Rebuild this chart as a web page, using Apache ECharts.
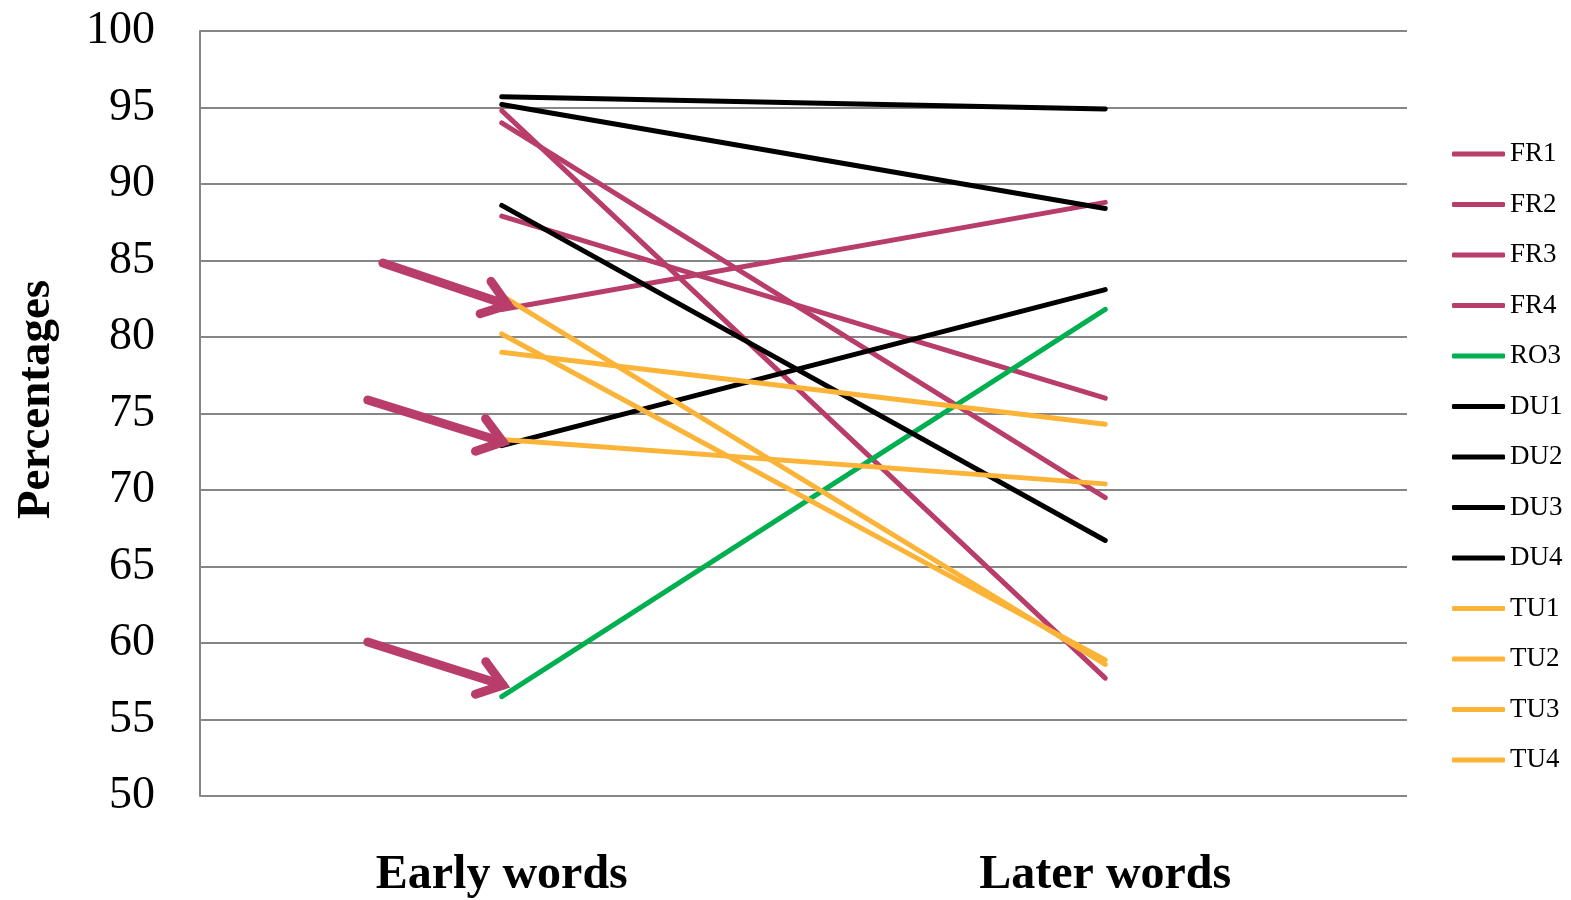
<!DOCTYPE html>
<html>
<head>
<meta charset="utf-8">
<script src="https://cdn.jsdelivr.net/npm/echarts@6/dist/echarts.min.js"></script>
<style>
html,body{margin:0;padding:0;background:#fff;}
#chart{width:1571px;height:900px;}
</style>
</head>
<body>
<div id="chart"></div>
<script>
// ---- data ----
var categories = ['Early words', 'Later words'];
var seriesNames = ['FR1','FR2','FR3','FR4','RO3','DU1','DU2','DU3','DU4','TU1','TU2','TU3','TU4'];
var FR1 = [94.8, 57.7];
var FR2 = [94.0, 69.5];
var FR3 = [87.9, 76.0];
var FR4 = [81.8, 88.8];
var RO3 = [56.5, 81.8];
var DU1 = [95.7, 94.9];
var DU2 = [95.2, 88.4];
var DU3 = [88.6, 66.7];
var DU4 = [72.9, 83.1];
var TU1 = [82.7, 58.6];
var TU2 = [80.2, 58.9];
var TU3 = [79.0, 74.3];
var TU4 = [73.3, 70.4];
var yTicks = [50, 55, 60, 65, 70, 75, 80, 85, 90, 95, 100];
// annotation arrows (in data units: x in category-index units, y in percent)
var arrowFromX = [-0.197, -0.222, -0.222];
var arrowFromY = [84.84, 75.88, 60.07];
var arrowToX   = [0.010, 0.002, 0.002];
var arrowToY   = [82.09, 73.14, 57.25];

var values = [FR1,FR2,FR3,FR4,RO3,DU1,DU2,DU3,DU4,TU1,TU2,TU3,TU4];
var PINK = '#B93D6B', GREEN = '#00B050', BLACK = '#000000', ORANGE = '#FBB437';
var colors = [PINK,PINK,PINK,PINK,GREEN,BLACK,BLACK,BLACK,BLACK,ORANGE,ORANGE,ORANGE,ORANGE];
var FONT = '"Liberation Serif", "DejaVu Serif", serif';

var series = seriesNames.map(function(n, i){
  return {
    name: n, type: 'line', data: values[i], xAxisIndex: 0,
    showSymbol: false, symbol: 'none', silent: true,
    lineStyle: {color: colors[i], width: 5, cap: 'round'},
    itemStyle: {color: colors[i]}
  };
});

var arrowData = arrowFromX.map(function(v, i){
  return [arrowFromX[i], arrowFromY[i], arrowToX[i], arrowToY[i]];
});

series.push({
  type: 'custom', xAxisIndex: 1, yAxisIndex: 0, silent: true, z: 10,
  encode: {x: [0, 2], y: [1, 3]},
  data: arrowData,
  renderItem: function(params, api){
    var p0 = api.coord([api.value(0), api.value(1)]);
    var p1 = api.coord([api.value(2), api.value(3)]);
    var ang = Math.atan2(p0[1]-p1[1], p0[0]-p1[0]);
    var L = 29, a = 36 * Math.PI / 180;
    var h1 = [p1[0] + L*Math.cos(ang + a), p1[1] + L*Math.sin(ang + a)];
    var h2 = [p1[0] + L*Math.cos(ang - a), p1[1] + L*Math.sin(ang - a)];
    var st = {stroke: PINK, lineWidth: 9, fill: null, lineCap: 'round', lineJoin: 'miter'};
    return {
      type: 'group',
      children: [
        {type: 'polyline', shape: {points: [p0, p1]}, style: st},
        {type: 'polyline', shape: {points: [h1, p1, h2]}, style: st}
      ]
    };
  }
});

var chart = echarts.init(document.getElementById('chart'), null, {renderer: 'canvas'});
chart.setOption({
  animation: false,
  backgroundColor: '#fff',
  grid: {left: 200, right: 164, top: 31, bottom: 104, containLabel: false, outerBoundsMode: 'none'},
  legend: {
    orient: 'vertical', left: 1447, top: 134,
    data: seriesNames,
    icon: 'roundRect',
    itemWidth: 53, itemHeight: 5, itemGap: 20.5,
    textStyle: {fontFamily: FONT, fontSize: 27, color: '#000', lineHeight: 30, padding: [0,0,0,0]},
    selectedMode: false
  },
  xAxis: [{
    type: 'category', data: categories, boundaryGap: true,
    axisLine: {show: false}, axisTick: {show: false},
    axisLabel: {fontFamily: FONT, fontSize: 48, fontWeight: 'bold', color: '#000', margin: 56}
  }, {
    type: 'value', min: -0.5, max: 1.5, show: false
  }],
  yAxis: {
    type: 'value', min: 50, max: 100, interval: 5,
    name: 'Percentages', nameLocation: 'middle', nameRotate: 90, nameGap: 140,
    nameTextStyle: {fontFamily: FONT, fontSize: 47, fontWeight: 'bold', color: '#000', padding: [0, 0, 0, 28]},
    axisLine: {show: true, onZero: false, lineStyle: {color: '#868686', width: 2}},
    axisTick: {show: false},
    splitLine: {show: true, lineStyle: {color: '#868686', width: 2}},
    axisLabel: {fontFamily: FONT, fontSize: 46, color: '#000', margin: 45,
      formatter: function(v){ return yTicks.indexOf(v) >= 0 ? String(v) : ''; }}
  },
  series: series
});
</script>
</body>
</html>
